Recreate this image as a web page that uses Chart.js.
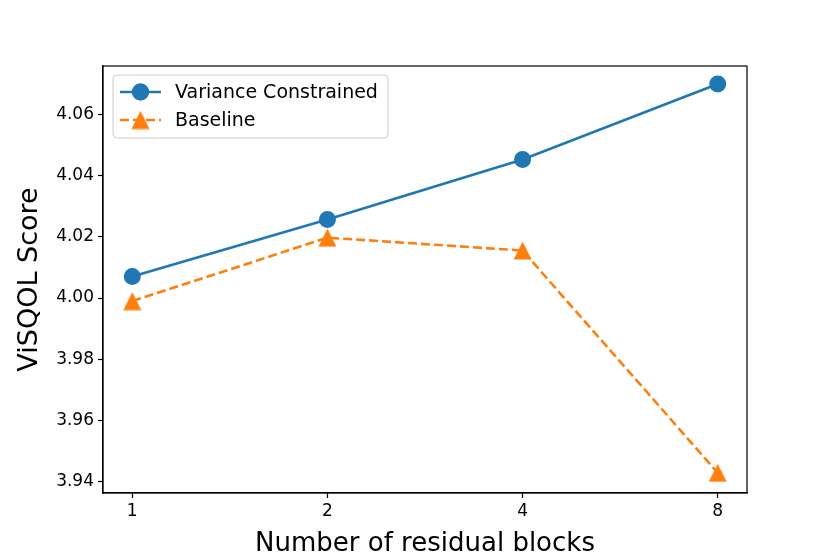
<!DOCTYPE html>
<html>
<head>
<meta charset="utf-8">
<script src="https://cdn.jsdelivr.net/npm/chart.js@4/dist/chart.umd.min.js"></script>
<style>
  html, body { margin: 0; padding: 0; background: #fff; }
  #wrap { width: 830px; height: 554px; }
</style>
</head>
<body>
<div id="wrap"><canvas id="chart"></canvas></div>
<script>
const xLabels = ['1', '2', '4', '8']
const varianceConstrained = [4.007, 4.0256, 4.0452, 4.0698]
const baseline = [3.999, 4.0197, 4.0155, 3.943]
const yTicks = [3.94, 3.96, 3.98, 4.00, 4.02, 4.04, 4.06]
const seriesNames = ['Variance Constrained', 'Baseline']

const blue = '#1f77b4'
const orange = '#ff7f0e'
const font = "'DejaVu Sans', sans-serif"

function points(values) {
  return values.map((v, i) => ({ x: i, y: v }))
}

// matplotlib '^' marker: as wide as tall, centred on its box
function triangleMarker(color, size) {
  const c = document.createElement('canvas')
  c.width = size
  c.height = size
  const g = c.getContext('2d')
  g.fillStyle = color
  g.beginPath()
  g.moveTo(size / 2, 0.5)
  g.lineTo(size - 0.5, size - 0.5)
  g.lineTo(0.5, size - 0.5)
  g.closePath()
  g.fill()
  return c
}
const triangle = triangleMarker(orange, 19)

// frame on all four sides plus a matplotlib style legend
const framePlugin = {
  id: 'frame',
  afterDraw(chart) {
    const { ctx, chartArea: a } = chart
    ctx.save()
    ctx.strokeStyle = '#000'
    ctx.lineWidth = 1.2
    ctx.strokeRect(a.left, a.top, a.right - a.left, a.bottom - a.top)

    // legend box
    const bx = 113, by = 75, bw = 275, bh = 63
    ctx.beginPath()
    ctx.roundRect(bx, by, bw, bh, 4)
    ctx.fillStyle = 'rgba(255,255,255,0.8)'
    ctx.fill()
    ctx.strokeStyle = '#cccccc'
    ctx.lineWidth = 1
    ctx.stroke()

    const rows = [92, 120]
    chart.data.datasets.forEach((ds, i) => {
      const y = rows[i]
      ctx.beginPath()
      ctx.setLineDash(ds.borderDash || [])
      ctx.strokeStyle = ds.borderColor
      ctx.lineWidth = ds.borderWidth
      ctx.moveTo(120, y)
      ctx.lineTo(161, y)
      ctx.stroke()
      ctx.setLineDash([])
      ctx.fillStyle = ds.borderColor
      Chart.helpers.drawPoint(ctx, {
        pointStyle: ds.pointStyle,
        radius: ds.pointRadius,
        borderWidth: 0,
        rotation: 0
      }, 140.5, y)
      ctx.fill()
      ctx.fillStyle = '#000'
      ctx.font = '19px ' + font
      ctx.textBaseline = 'middle'
      ctx.fillText(ds.label, 175, y + 1)
    })
    ctx.restore()
  }
}

new Chart(document.getElementById('chart'), {
  type: 'line',
  data: {
    datasets: [
      {
        label: seriesNames[0],
        data: points(varianceConstrained),
        borderColor: blue,
        backgroundColor: blue,
        borderWidth: 2.6,
        pointStyle: 'circle',
        pointRadius: 8.5,
        pointBorderWidth: 0,
        pointHoverRadius: 8.5
      },
      {
        label: seriesNames[1],
        data: points(baseline),
        borderColor: orange,
        backgroundColor: orange,
        borderWidth: 2.6,
        borderDash: [9, 4],
        pointStyle: triangle,
        pointRadius: 10,
        pointBorderWidth: 0,
        pointHoverRadius: 10
      }
    ]
  },
  options: {
    responsive: true,
    maintainAspectRatio: false,
    animation: false,
    layout: { padding: { left: 0, top: 66, right: 83, bottom: 0 } },
    plugins: {
      legend: { display: false },
      tooltip: { enabled: false }
    },
    scales: {
      x: {
        type: 'linear',
        min: -0.15,
        max: 3.15,
        afterBuildTicks: scale => { scale.ticks = xLabels.map((l, i) => ({ value: i })) },
        afterFit: scale => { scale.height = 61 },
        grid: { drawOnChartArea: false, drawTicks: true, tickLength: 5, color: '#000', tickWidth: 1.2 },
        border: { display: true, color: '#000', width: 1.2 },
        ticks: {
          color: '#000',
          font: { family: font, size: 17 },
          padding: 3,
          maxRotation: 0,
          callback: v => xLabels[v]
        },
        title: {
          display: true,
          text: 'Number of residual blocks',
          color: '#000',
          font: { family: font, size: 26, lineHeight: 1 },
          padding: { top: 0, bottom: -3 }
        }
      },
      y: {
        min: 3.9364,
        max: 4.0757,
        afterBuildTicks: scale => { scale.ticks = yTicks.map(v => ({ value: v })) },
        afterFit: scale => { scale.width = 103 },
        grid: { drawOnChartArea: false, drawTicks: true, tickLength: 5, color: '#000', tickWidth: 1.2 },
        border: { display: true, color: '#000', width: 1.2 },
        ticks: {
          color: '#000',
          font: { family: font, size: 17 },
          padding: 4,
          callback: v => v.toFixed(2)
        },
        title: {
          display: true,
          text: 'ViSQOL Score',
          color: '#000',
          font: { family: font, size: 27, lineHeight: 1 },
          padding: { top: 16, bottom: 0 }
        }
      }
    }
  },
  plugins: [framePlugin]
})
</script>
</body>
</html>
